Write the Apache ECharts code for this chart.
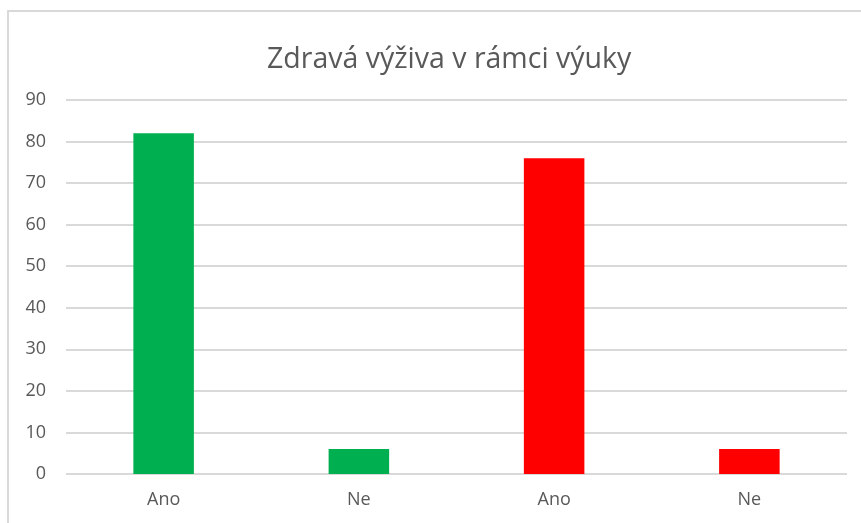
<!DOCTYPE html>
<html>
<head>
<meta charset="utf-8">
<script src="https://cdn.jsdelivr.net/npm/echarts@6/dist/echarts.min.js"></script>
<style>
html,body{margin:0;padding:0;background:#fff;}
#chart{width:861px;height:523px;}
</style>
</head>
<body>
<div id="chart"></div>
<script>
const titleText = "Zdravá výživa v rámci výuky";
const categories = ["Ano", "Ne", "Ano", "Ne"];
const values = [82, 6, 76, 6];
const barColors = ["#00B050", "#00B050", "#FF0000", "#FF0000"];
const yMin = 0, yMax = 90, yStep = 10;

const chart = echarts.init(document.getElementById('chart'));
chart.setOption({
  animation: false,
  backgroundColor: '#fff',
  title: {
    text: titleText,
    left: 262,
    top: 40,
    textStyle: { fontFamily: 'Open Sans', fontWeight: 'normal', fontSize: 28.5, color: '#595959' }
  },
  grid: { left: 66, right: 14, top: 100, bottom: 49 },
  xAxis: {
    type: 'category',
    data: categories,
    axisLine: { show: false },
    axisTick: { show: false },
    axisLabel: { margin: 17, fontFamily: 'Open Sans', fontSize: 18, color: '#595959' }
  },
  yAxis: {
    type: 'value',
    min: yMin, max: yMax, interval: yStep,
    axisLine: { show: false },
    axisTick: { show: false },
    axisLabel: { margin: 20, fontFamily: 'Open Sans', fontSize: 18, color: '#595959' },
    splitLine: { lineStyle: { color: '#d9d9d9', width: 2 } }
  },
  series: [{
    type: 'bar',
    barWidth: '31%',
    data: values.map((v, i) => ({ value: v, itemStyle: { color: barColors[i] } }))
  }],
  graphic: [
    { type: 'line', shape: { x1: 7, y1: 11, x2: 861, y2: 11 }, style: { stroke: '#d9d9d9', lineWidth: 2 }, z: 100 },
    { type: 'line', shape: { x1: 8, y1: 10, x2: 8, y2: 523 }, style: { stroke: '#d9d9d9', lineWidth: 2 }, z: 100 }
  ]
});
</script>
</body>
</html>
